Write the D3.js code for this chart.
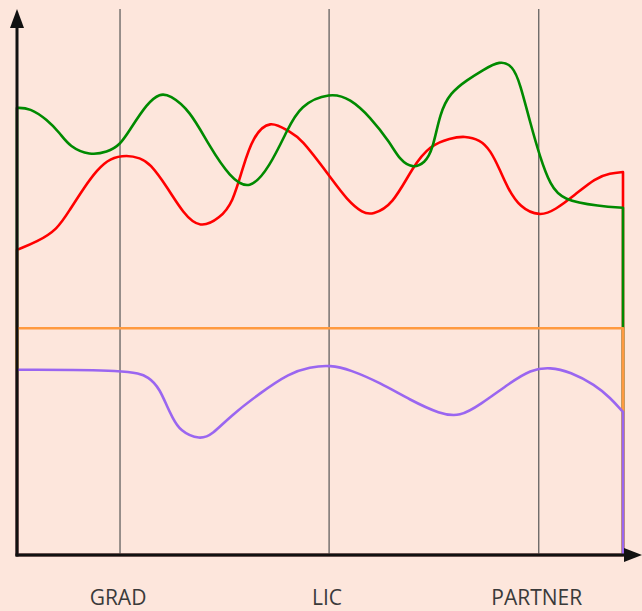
<!DOCTYPE html>
<html>
<head>
<meta charset="utf-8">
<script src="https://cdn.jsdelivr.net/npm/d3@7"></script>
<style>
  html, body { margin: 0; padding: 0; background: #fde6dc; }
  svg { display: block; }
</style>
</head>
<body>
<div id="chart"></div>
<script>
// categorías del eje x (posición en 0..100)
const categories = ["GRAD", "LIC", "PARTNER"];
const categoryPos = [17.0, 51.5, 86.1];

// series: posición x (0..100) y valor y (0..100)
const greenX = [0, 2.1, 5.0, 7.1, 8.7, 12.0, 14.9, 17.0, 18.6, 21.5, 23.6, 25.2, 28.5, 31.8, 35.1, 38.4, 41.7, 44.6, 46.7, 51.7, 55.0, 58.3, 61.6, 63.2, 65.3, 67.3, 68.6, 69.8, 71.5, 74.3, 76.9, 79.7, 81.8, 83.0, 84.7, 86.3, 88.0, 90.0, 96.2, 100];
const greenY = [82.8, 82.8, 80.6, 78.1, 75.6, 74.0, 74.6, 75.9, 78.7, 83.7, 85.5, 85.2, 82.4, 75.6, 70.0, 67.4, 71.9, 78.7, 83.3, 85.7, 84.5, 81.1, 76.3, 73.1, 71.6, 72.6, 75.0, 81.9, 85.6, 88.0, 89.8, 91.6, 90.6, 87.4, 80.0, 73.7, 68.5, 65.7, 64.6, 64.3];

const redX = [0, 3.3, 6.6, 8.7, 11.1, 13.2, 15.3, 18.2, 20.3, 21.9, 24.8, 27.4, 30.2, 33.5, 35.6, 37.3, 38.9, 41.7, 45.0, 46.7, 51.7, 54.5, 57.1, 58.6, 62.0, 65.3, 68.2, 71.5, 73.9, 76.4, 78.1, 79.7, 80.9, 83.0, 86.3, 88.8, 92.1, 95.4, 97.9, 100];
const redY = [56.5, 58.0, 60.2, 63.9, 68.1, 71.3, 73.5, 74.1, 73.5, 72.6, 68.1, 63.3, 60.4, 62.4, 65.2, 71.9, 77.4, 80.7, 78.3, 77.4, 70.0, 65.7, 63.3, 63.0, 64.8, 71.9, 75.9, 77.2, 77.6, 76.9, 75.0, 71.3, 68.1, 64.3, 62.7, 63.9, 66.7, 69.8, 70.7, 70.9];

const orangeX = [0, 100];
const orangeY = [42.0, 42.0];

const purpleX = [0, 18.6, 21.9, 23.6, 24.8, 25.6, 26.9, 30.2, 32.3, 35.1, 40.1, 45.0, 48.3, 51.7, 55.0, 59.9, 64.9, 69.8, 73.1, 76.4, 81.4, 84.7, 88.0, 91.3, 95.4, 97.9, 100];
const purpleY = [34.3, 34.3, 33.0, 30.6, 27.4, 25.6, 22.9, 21.3, 22.4, 25.6, 30.0, 33.7, 34.8, 35.2, 34.3, 31.9, 28.7, 26.1, 25.6, 27.8, 31.9, 34.3, 34.8, 33.9, 31.5, 29.1, 26.5];

const seriesList = [
  { name: "red", xs: redX, ys: redY, color: "#ff0000" },
  { name: "green", xs: greenX, ys: greenY, color: "#008a00" },
  { name: "orange", xs: orangeX, ys: orangeY, color: "#ff9a40" },
  { name: "purple", xs: purpleX, ys: purpleY, color: "#9a66f0" }
];

const width = 642, height = 611;
const x0 = 17, x1 = 623, yBase = 555, yTop = 15;

const svg = d3.select("#chart").append("svg")
  .attr("width", width)
  .attr("height", height);

svg.append("rect")
  .attr("width", width)
  .attr("height", height)
  .attr("fill", "#fde6dc");

const x = d3.scaleLinear().domain([0, 100]).range([x0, x1]);
const y = d3.scaleLinear().domain([0, 100]).range([yBase, yTop]);

// Líneas verticales de categorías
svg.append("g")
  .selectAll("line")
  .data(categoryPos)
  .enter().append("line")
    .attr("x1", d => x(d))
    .attr("x2", d => x(d))
    .attr("y1", 9)
    .attr("y2", yBase)
    .style("stroke", "#555")
    .style("stroke-width", 1.2);

// Etiquetas
svg.append("g")
  .selectAll("text")
  .data(categories)
  .enter().append("text")
    .attr("x", (d, i) => x(categoryPos[i]) - 2)
    .attr("y", 605)
    .attr("text-anchor", "middle")
    .style("font-family", "'Open Sans', sans-serif")
    .style("font-size", "21px")
    .style("fill", "#3a3a3a")
    .text(d => d);

// Áreas sin relleno (línea superior + borde derecho)
const area = d3.area()
  .x(d => x(d[0]))
  .y0(yBase)
  .y1(d => y(d[1]))
  .curve(d3.curveBasis);

svg.append("g")
  .selectAll("path")
  .data(seriesList)
  .enter().append("path")
    .attr("d", s => area(s.xs.map((v, i) => [v, s.ys[i]])))
    .style("fill", "none")
    .style("stroke", s => s.color)
    .style("stroke-width", 2.6)
    .style("stroke-linejoin", "round");

// Ejes con flechas
svg.append("line")
  .attr("x1", x0).attr("x2", x0)
  .attr("y1", yBase + 1.5).attr("y2", 24)
  .style("stroke", "#111").style("stroke-width", 3);
svg.append("path")
  .attr("d", `M${x0 - 7},28 L${x0},9 L${x0 + 7},28 Z`)
  .style("fill", "#111");

svg.append("line")
  .attr("x1", x0 - 1.5).attr("x2", 628)
  .attr("y1", yBase).attr("y2", yBase)
  .style("stroke", "#111").style("stroke-width", 3);
svg.append("path")
  .attr("d", `M624,${yBase - 7} L642,${yBase} L624,${yBase + 7} Z`)
  .style("fill", "#111");
</script>
</body>
</html>
